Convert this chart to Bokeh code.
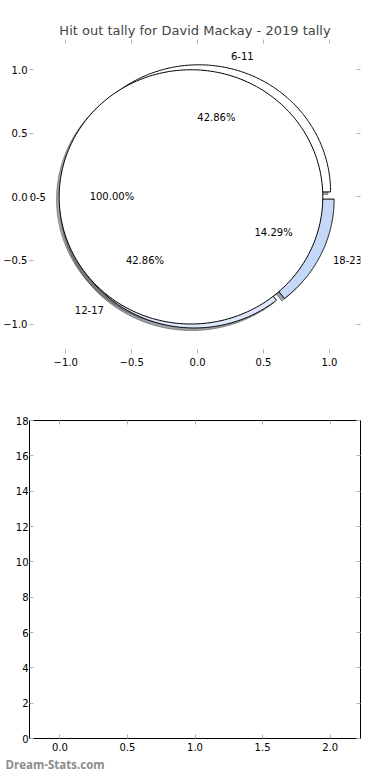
import numpy as np
from bokeh.plotting import figure
from bokeh.models import Range1d, FixedTicker, LinearAxis, Title, LabelSet, ColumnDataSource
from bokeh.layouts import column
from bokeh.core.properties import value
from bokeh.embed import file_html
from bokeh.resources import INLINE

# ---------------- data ----------------
title_text = "Hit out tally for David Mackay - 2019 tally"
inner_labels = ["0-5"]
inner_values = [1]
inner_colors = ["#ffffff"]
outer_labels = ["6-11", "12-17", "18-23"]
outer_values = [3, 3, 1]
outer_colors = ["#ffffff", "#dfe8fb", "#c5d8f8"]

pie_ticks = [-1.0, -0.5, 0.0, 0.5, 1.0]
pie_tick_labels = ["\u22121.0", "\u22120.5", "0.0", "0.5", "1.0"]
bar_x_ticks = [0.0, 0.5, 1.0, 1.5, 2.0]
bar_x_tick_labels = ["0.0", "0.5", "1.0", "1.5", "2.0"]
bar_y_ticks = [0, 2, 4, 6, 8, 10, 12, 14, 16, 18]
bar_y_tick_labels = ["0", "2", "4", "6", "8", "10", "12", "14", "16", "18"]
watermark = "Dream-Stats.com"

FONT = "DejaVu Sans"
TICK_COLOR = "#b0b0b0"


def pie_geometry(values, labels, colors, explode, start=0.0):
    total = float(sum(values))
    a = start
    out = []
    for v, lab, col in zip(values, labels, colors):
        span = 360.0 * v / total
        mid = np.deg2rad(a + span / 2.0)
        cx, cy = explode * np.cos(mid), explode * np.sin(mid)
        t = np.deg2rad(np.linspace(a, a + span, 240))
        xs = cx + np.cos(t)
        ys = cy + np.sin(t)
        if span < 359.999:
            xs = np.concatenate([[cx], xs, [cx]])
            ys = np.concatenate([[cy], ys, [cy]])
        out.append(dict(xs=list(xs), ys=list(ys), cx=cx, cy=cy, mid=mid,
                        pct="%.2f%%" % (100.0 * v / total), label=lab, color=col))
        a += span
    return out


def shade(hexcol):
    h = hexcol.lstrip("#")
    r, g, b = (int(h[i:i + 2], 16) for i in (0, 2, 4))
    return "#%02x%02x%02x" % (int(r * 0.3), int(g * 0.3), int(b * 0.3))


def style_axes(p, xticks, xlabels, yticks, ylabels, frame=True):
    p.grid.visible = False
    p.background_fill_color = "white"
    p.border_fill_color = "white"
    p.outline_line_color = "black" if frame else None
    p.outline_line_width = 1
    bx, ly = p.below[0], p.left[0]
    bx.ticker = FixedTicker(ticks=xticks)
    bx.major_label_overrides = {t: l for t, l in zip(xticks, xlabels)}
    ly.ticker = FixedTicker(ticks=yticks)
    ly.major_label_overrides = {t: l for t, l in zip(yticks, ylabels)}
    top = LinearAxis(ticker=FixedTicker(ticks=xticks))
    right = LinearAxis(ticker=FixedTicker(ticks=yticks))
    p.add_layout(top, "above")
    p.add_layout(right, "right")
    for ax in [bx, ly, top, right]:
        ax.axis_line_color = "black" if frame else None
        ax.major_tick_line_color = TICK_COLOR
        ax.major_tick_line_width = 1
        ax.major_tick_in = 4
        ax.major_tick_out = 0
        ax.minor_tick_line_color = None
        ax.major_label_text_font = FONT
        ax.major_label_text_color = "black"
        ax.major_label_text_font_size = "10px"
        ax.major_label_standoff = 2
    bx.major_label_standoff = 4
    for ax in [top, right]:
        ax.major_label_text_color = None
        ax.major_label_text_font_size = "1px"
        ax.major_label_standoff = 0


# ---------------- pie chart ----------------
p1 = figure(width=374, height=374, x_range=Range1d(-1.275, 1.236),
            y_range=Range1d(-1.232, 1.238), output_backend="svg",
            toolbar_location=None, min_border_top=39, min_border_bottom=21,
            min_border_right=14, min_border_left=10)
p1.title.text = title_text
p1.title.align = "center"
p1.title.text_font = FONT
p1.title.text_font_size = "13px"
p1.title.text_font_style = "normal"
p1.title.standoff = 4
style_axes(p1, pie_ticks, pie_tick_labels, pie_ticks, pie_tick_labels, frame=False)

outer = pie_geometry(outer_values, outer_labels, outer_colors, 0.04)
inner = pie_geometry(inner_values, inner_labels, inner_colors, 0.05)
SH = 0.02

# shadows first (below all wedges)
for w in outer + inner:
    sc = shade(w["color"])
    p1.patch([x - SH for x in w["xs"]], [y - SH for y in w["ys"]],
             fill_color=sc, fill_alpha=0.5, line_color=sc, line_alpha=0.5, line_width=1)
# outer wedges, then the single inner wedge on top
for w in outer + inner:
    p1.patch(w["xs"], w["ys"], fill_color=w["color"], line_color="black", line_width=1)

lab = dict(x=[], y=[], t=[], a=[])
pct = dict(x=[], y=[], t=[])
for w in outer + inner:
    lx = w["cx"] + 1.1 * np.cos(w["mid"])
    ly = w["cy"] + 1.1 * np.sin(w["mid"])
    lab["x"].append(lx); lab["y"].append(ly); lab["t"].append(w["label"])
    lab["a"].append("left" if lx > 0 else "right")
    pct["x"].append(w["cx"] + 0.6 * np.cos(w["mid"]))
    pct["y"].append(w["cy"] + 0.6 * np.sin(w["mid"]))
    pct["t"].append(w["pct"])

p1.add_layout(LabelSet(x="x", y="y", text="t", text_align="a", source=ColumnDataSource(lab),
                       text_baseline="middle", text_font=value(FONT),
                       text_font_size="10px", text_color="black"))
p1.add_layout(LabelSet(x="x", y="y", text="t", text_align="center", source=ColumnDataSource(pct),
                       text_baseline="middle", text_font=value(FONT),
                       text_font_size="10px", text_color="black"))

# ---------------- empty bar axes ----------------
p2 = figure(width=374, height=398, x_range=Range1d(-0.225, 2.225),
            y_range=Range1d(0, 18), output_backend="svg", toolbar_location=None,
            min_border_top=46, min_border_bottom=34, min_border_right=12,
            min_border_left=10)
style_axes(p2, bar_x_ticks, bar_x_tick_labels, bar_y_ticks, bar_y_tick_labels, frame=True)
p2.left[0].major_label_standoff = 1
p2.add_layout(Title(text=watermark, align="left", offset=-24,
                    text_font="Open Sans", text_font_style="bold",
                    text_font_size="11.5px", text_color="#8c8c8c", standoff=2), "below")

layout = column(p1, p2, spacing=0)
open("out.html", "w").write(file_html(layout, INLINE))
